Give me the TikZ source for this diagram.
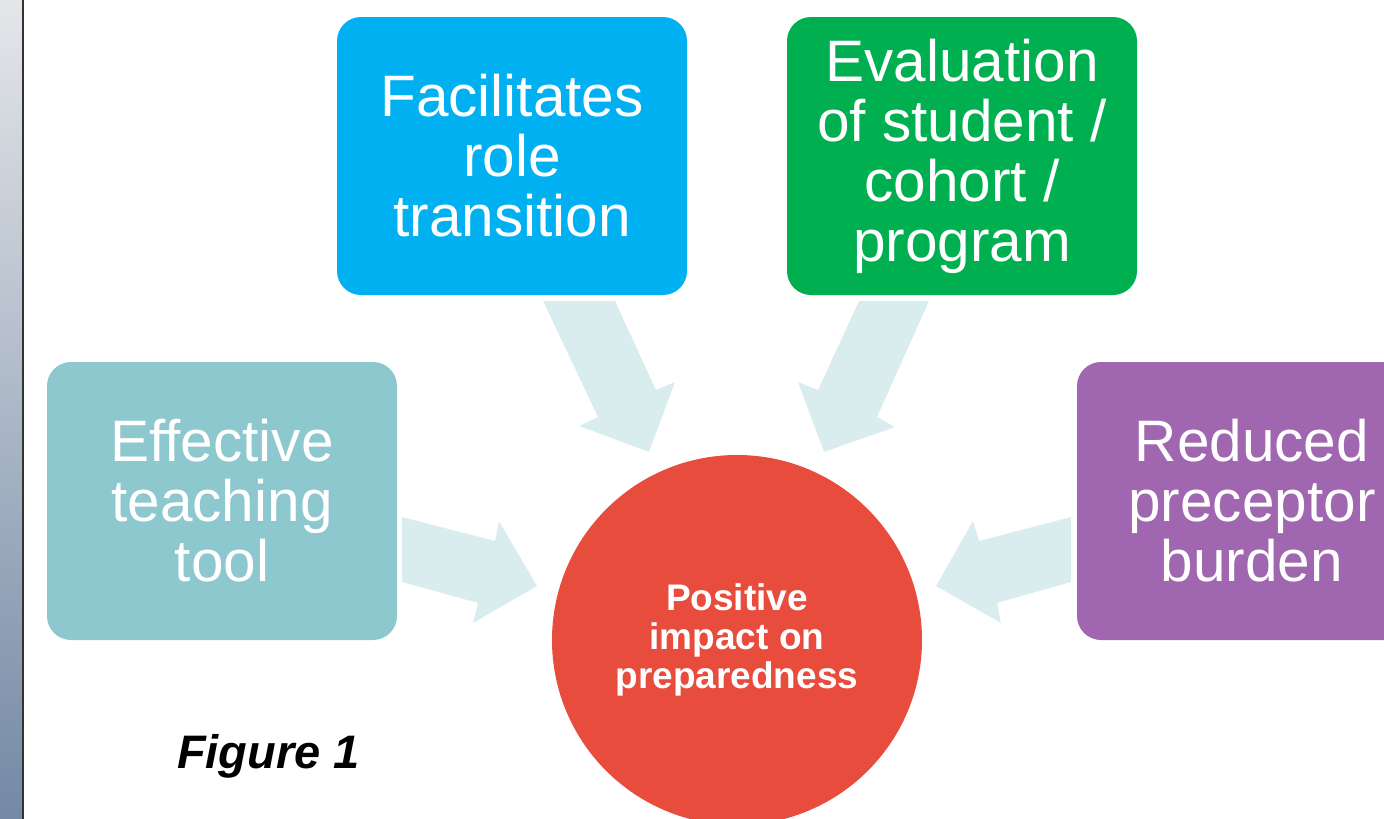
\documentclass[tikz,border=0pt]{standalone}
\usepackage{fontspec}
\setmainfont{Liberation Sans}
\begin{document}
\definecolor{tealbox}{HTML}{8DC8CF}
\definecolor{bluebox}{HTML}{00B0F0}
\definecolor{greenbox}{HTML}{00B050}
\definecolor{purplebox}{HTML}{A066B0}
\definecolor{hub}{HTML}{E74C3C}
\definecolor{flow}{HTML}{DAEDEE}
\definecolor{bartop}{HTML}{E4E6E9}
\definecolor{barbot}{HTML}{7489A5}
\begin{tikzpicture}[x=1pt,y=-1pt,
  card/.style={rectangle,rounded corners=24pt,minimum width=350pt,minimum height=278pt,
    inner sep=0pt,text=white,align=center,font=\fontsize{58.5}{60}\selectfont},
  hubnode/.style={circle,fill=hub,minimum size=370pt,inner sep=0pt,text=white,align=center,
    font=\fontsize{37}{39}\selectfont\bfseries},
  flowarrow/.style={fill=flow,draw=none}]
\useasboundingbox (0,0) rectangle (1384,819);
\clip (0,0) rectangle (1384,819);
% side bar
\shade[top color=bartop,bottom color=barbot] (0,0) rectangle (22,819);
\fill[black!80] (22,0) rectangle (24,819);
% block arrows
\fill[flowarrow] (402,517) -- (495,541) -- (499,521) -- (537,586) -- (473,623) -- (478,603) -- (402,582) -- cycle;
\fill[flowarrow] (1071,517) -- (979,541) -- (973,521) -- (936,586) -- (1001,623) -- (997,603) -- (1071,582) -- cycle;
\fill[flowarrow] (543,301) -- (615,301) -- (656,390) -- (675,382) -- (649,452) -- (579,426) -- (598,417) -- cycle;
\fill[flowarrow] (929,301) -- (859,301) -- (818,390) -- (798,382) -- (824,452) -- (895,427) -- (877,417) -- cycle;
% boxes
\node[card,fill=tealbox] (teach) at (222,501) {Effective\\teaching\\tool};
\node[card,fill=bluebox] (role) at (512,156) {Facilitates\\role\\transition};
\node[card,fill=greenbox] (eval) at (962,156) {Evaluation\\of student /\\cohort /\\program};
\node[card,fill=purplebox] (burden) at (1252,501) {Reduced\\preceptor\\burden};
% centre
\node[hubnode] (impact) at (737,640) {Positive\\impact on\\preparedness};
% caption
\node[font=\fontsize{47}{52}\selectfont\bfseries\itshape,inner sep=0pt] (caption) at (268.5,756) {Figure 1};
\end{tikzpicture}
\end{document}
